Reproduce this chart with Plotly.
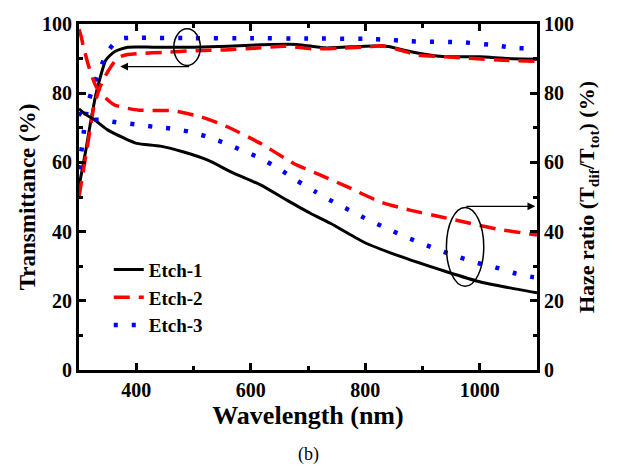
import plotly.graph_objects as go

# ---------------- data ----------------
series_names = ["Etch-1", "Etch-2", "Etch-3"]

t1_wl = [300, 312, 321, 330, 339, 347, 362, 385, 430, 500, 560, 620, 680, 730, 800, 840, 880, 930, 1000, 1050, 1100]
t1_val = [53, 63.6, 72.3, 80, 85.7, 89.6, 92, 93.3, 93.3, 93.3, 93.6, 94, 94.1, 93.1, 93.6, 93.5, 92, 90.7, 90.5, 90, 89.8]

t2_wl = [300, 305, 315, 326, 336, 346, 356, 367, 385, 408, 446, 505, 555, 608, 658, 710, 752, 800, 830, 860, 892, 940, 990, 1040, 1100]
t2_val = [50, 55, 65, 76, 81.5, 85, 87.7, 90.2, 91.2, 91.5, 91.8, 92.3, 92.5, 93, 93.6, 92.8, 93, 93.3, 93.7, 92.5, 91, 90.5, 90, 89.5, 89.2]

t3_wl = [300, 306, 315, 324, 336, 350, 362, 374, 400, 500, 600, 700, 800, 845, 878, 970, 1030, 1063, 1100]
t3_val = [58, 65.6, 76.6, 81.4, 86.7, 92, 94.5, 95.8, 96, 95.9, 95.9, 95.8, 95.7, 95.4, 95, 94.7, 93.8, 93, 93]

h1_wl = [300, 312, 327, 350, 379, 401, 442, 483, 524, 570, 617, 663, 704, 739, 797, 855, 942, 1000, 1050, 1100]
h1_val = [75.5, 73.8, 72.3, 69.4, 67, 65.5, 64.7, 63, 60.7, 56.9, 53.5, 49.1, 45.3, 42.4, 37, 33.2, 28.4, 25.5, 23.8, 22.3]

h2_wl = [300, 304, 307, 318, 330, 344, 362, 380, 405, 465, 512, 559, 617, 675, 721, 768, 826, 878, 931, 983, 1035, 1088, 1100]
h2_val = [98.5, 96.3, 93.9, 87.2, 81.9, 79, 76.6, 75.8, 75.1, 74.9, 73.2, 70.3, 65.5, 59.7, 56.4, 53, 48.6, 46.2, 44.3, 42.4, 40.6, 39.3, 39]

h3_wl = [300, 304, 318, 336, 365, 398, 430, 460, 492, 524, 556, 587, 617, 648, 681, 713, 744, 777, 805, 838, 870, 899, 931, 962, 995, 1027, 1058, 1088, 1100]
h3_val = [74.5, 73.7, 72.4, 72.3, 71.6, 71, 70.3, 69.8, 68.9, 67.4, 65.5, 63.3, 61.2, 58.3, 54.7, 51.5, 48.6, 45.8, 43.4, 40.9, 38.5, 36.6, 34.5, 32.7, 31, 29.7, 28.1, 27, 26.7]

x_ticks = [400, 600, 800, 1000]
y_ticks = [0, 20, 40, 60, 80, 100]

# ---------------- styles ----------------
FONT = "Liberation Serif"
colors = ["black", "red", "blue"]
dashes = ["solid", "16px,9px", "4px,14px"]
widths = [3, 3.5, 4.5]

fig = go.Figure()
trans = [(t1_wl, t1_val), (t2_wl, t2_val), (t3_wl, t3_val)]
haze = [(h1_wl, h1_val), (h2_wl, h2_val), (h3_wl, h3_val)]

for i, name in enumerate(series_names):
    fig.add_trace(go.Scatter(
        x=trans[i][0], y=trans[i][1], mode="lines", name=name,
        line=dict(color=colors[i], dash=dashes[i], width=widths[i], shape="spline", smoothing=0.6),
        legendgroup=name, showlegend=True, yaxis="y"))
for i, name in enumerate(series_names):
    fig.add_trace(go.Scatter(
        x=haze[i][0], y=haze[i][1], mode="lines", name=name,
        line=dict(color=colors[i], dash=dashes[i], width=widths[i], shape="spline", smoothing=0.6),
        legendgroup=name, showlegend=False, yaxis="y2"))

axis_common = dict(
    showline=True, linecolor="black", linewidth=3,
    ticks="inside", ticklen=7, tickwidth=2.5, tickcolor="black",
    showgrid=False, zeroline=False, automargin=False,
    tickfont=dict(family=FONT, size=20, color="black", weight="bold"),
)
minor_common = dict(ticks="inside", ticklen=4, tickwidth=2.5, tickcolor="black")

fig.update_layout(
    width=617, height=469,
    margin=dict(l=79, r=80, t=24, b=99),
    paper_bgcolor="white", plot_bgcolor="white",
    font=dict(family=FONT, color="black"),
    xaxis=dict(
        range=[300, 1100], tickvals=x_ticks, mirror="ticks",
        minor=dict(dtick=100, tick0=300, **minor_common),
        title=dict(text="Wavelength (nm)", font=dict(family=FONT, size=26, color="black", weight="bold"), standoff=2),
        **axis_common),
    yaxis=dict(
        range=[0, 100], tickvals=y_ticks,
        minor=dict(dtick=10, tick0=0, **minor_common),
        title=dict(text="Transmittance (%)", font=dict(family=FONT, size=23, color="black", weight="bold"), standoff=0),
        **axis_common),
    yaxis2=dict(
        range=[0, 100], tickvals=y_ticks, overlaying="y", side="right",
        minor=dict(dtick=10, tick0=0, **minor_common),
        title=dict(text="Haze ratio (T<sub>dif</sub>/T<sub>tot</sub>) (%)",
                   font=dict(family=FONT, size=22, color="black", weight="bold"), standoff=6),
        **axis_common),
    legend=dict(x=0.065, y=0.345, xanchor="left", yanchor="top",
                bgcolor="rgba(0,0,0,0)", tracegroupgap=0,
                font=dict(family=FONT, size=19, color="black", weight="bold")),
    showlegend=True,
)

# ellipses and arrows
fig.add_shape(type="circle", xref="x", yref="y", x0=465.6, x1=512, y0=88, y1=98.6,
              line=dict(color="black", width=1.5))
fig.add_shape(type="circle", xref="x", yref="y", x0=941.8, x1=1007, y0=24.2, y1=47,
              line=dict(color="black", width=1.5))
fig.add_annotation(x=372, y=87.7, ax=495, ay=87.7, xref="x", yref="y", axref="x", ayref="y",
                   showarrow=True, arrowhead=2, arrowsize=1.2, arrowwidth=1.3, arrowcolor="black", text="")
fig.add_annotation(x=1097, y=47.3, ax=974, ay=47.3, xref="x", yref="y", axref="x", ayref="y",
                   showarrow=True, arrowhead=2, arrowsize=1.2, arrowwidth=1.3, arrowcolor="black", text="")

fig.add_annotation(text="(b)", xref="paper", yref="paper", x=0.5, y=-0.245,
                   xanchor="center", yanchor="middle", showarrow=False,
                   font=dict(family=FONT, size=18, color="black"))

fig.write_html("out.html", config={"displayModeBar": False},
               post_script="document.body.style.margin='0';")
